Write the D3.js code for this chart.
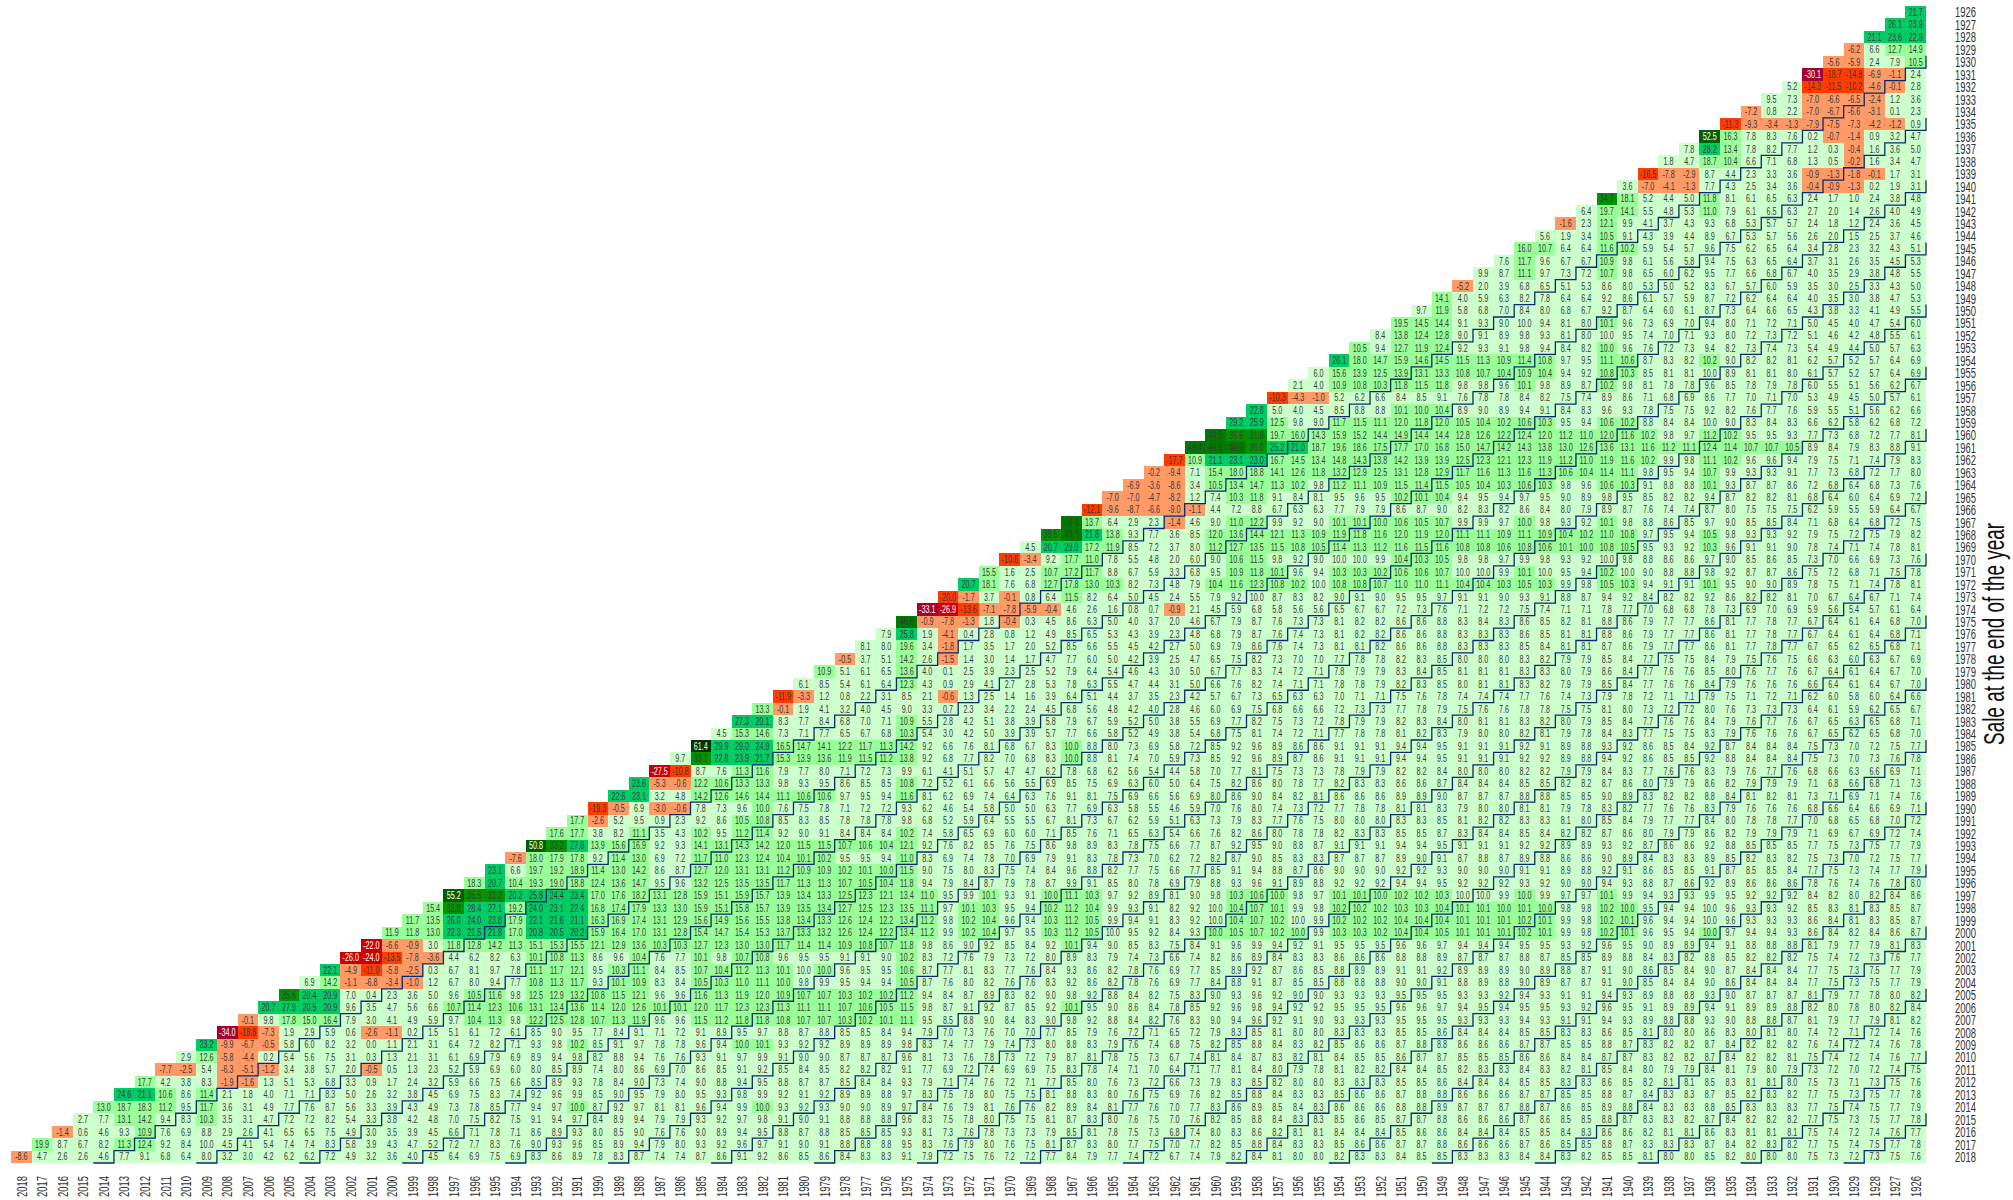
<!DOCTYPE html>
<html><head><meta charset="utf-8">
<script src="https://d3js.org/d3.v7.min.js"></script>
<style>html,body{margin:0;padding:0;background:#fff}svg{display:block}text{font-family:"Liberation Sans Narrow","Liberation Sans",sans-serif}</style>
</head><body><svg id="c" width="2013" height="1200"></svg>
<script>
const firstYear=1926, lastYear=2018;
const axisTitle="Sale at the end of the year";
const bandLimits=[-30,-20,-10,0,10,20,30,40,50,60];
const bandColors=["#a50034","#cc0000","#ff3c00","#ff9966","#ccffcc","#99ff99","#00cc66","#009400","#007a00","#005f00","#003300"];
const stepHolds=[5,10,15,20,25,30,35,40,45,50,55,60,65,70,75,80,85,90];
// each list: annualised return for one sale year, left to right (buy year = sale year ... 1926)
const y1926=[21.7];
const y1927=[26.1,23.9];
const y1928=[21.1,23.6,22.9];
const y1929=[-6.2,6.6,12.7,14.9];
const y1930=[-5.6,-5.9,2.4,7.9,10.5];
const y1931=[-30.1,-18.7,-14.8,-6.9,-1.1,2.4];
const y1932=[5.2,-14.3,-11.5,-10.2,-4.6,-0.1,2.8];
const y1933=[9.5,7.3,-7.0,-6.6,-6.5,-2.4,1.2,3.6];
const y1934=[-7.2,0.8,2.2,-7.0,-6.7,-6.6,-3.1,0.1,2.3];
const y1935=[-11.3,-9.3,-3.4,-1.3,-7.9,-7.5,-7.3,-4.2,-1.2,0.9];
const y1936=[52.5,16.3,7.8,8.3,7.6,0.2,-0.7,-1.4,0.9,3.2,4.7];
const y1937=[7.8,28.2,13.4,7.8,8.2,7.7,1.2,0.3,-0.4,1.6,3.6,5.0];
const y1938=[1.8,4.7,18.7,10.4,6.6,7.1,6.8,1.3,0.5,-0.2,1.6,3.4,4.7];
const y1939=[-16.5,-7.8,-2.9,8.7,4.4,2.3,3.3,3.6,-0.9,-1.3,-1.8,-0.1,1.7,3.1];
const y1940=[3.6,-7.0,-4.1,-1.3,7.7,4.3,2.5,3.4,3.6,-0.4,-0.9,-1.3,0.2,1.9,3.1];
const y1941=[34.7,18.1,5.2,4.4,5.0,11.8,8.1,6.1,6.5,6.3,2.4,1.7,1.0,2.4,3.8,4.8];
const y1942=[6.4,19.7,14.1,5.5,4.8,5.3,11.0,7.9,6.1,6.5,6.3,2.7,2.0,1.4,2.6,4.0,4.9];
const y1943=[-1.6,2.3,12.1,9.9,4.1,3.7,4.3,9.3,6.8,5.3,5.7,5.7,2.4,1.8,1.2,2.4,3.6,4.5];
const y1944=[5.6,1.9,3.4,10.5,9.1,4.3,3.9,4.4,8.9,6.7,5.3,5.7,5.6,2.6,2.0,1.5,2.5,3.7,4.6];
const y1945=[16.0,10.7,6.4,6.4,11.6,10.2,5.9,5.4,5.7,9.6,7.5,6.2,6.5,6.4,3.4,2.8,2.3,3.2,4.3,5.1];
const y1946=[7.6,11.7,9.6,6.7,6.7,10.9,9.8,6.1,5.6,5.8,9.4,7.5,6.3,6.5,6.4,3.7,3.1,2.6,3.5,4.5,5.3];
const y1947=[9.9,8.7,11.1,9.7,7.3,7.2,10.7,9.8,6.5,6.0,6.2,9.5,7.7,6.6,6.8,6.7,4.0,3.5,2.9,3.8,4.8,5.5];
const y1948=[-5.2,2.0,3.9,6.8,6.5,5.1,5.3,8.6,8.0,5.3,5.0,5.2,8.3,6.7,5.7,6.0,5.9,3.5,3.0,2.5,3.3,4.3,5.0];
const y1949=[14.1,4.0,5.9,6.3,8.2,7.8,6.4,6.4,9.2,8.6,6.1,5.7,5.9,8.7,7.2,6.2,6.4,6.4,4.0,3.5,3.0,3.8,4.7,5.3];
const y1950=[9.7,11.9,5.8,6.8,7.0,8.4,8.0,6.8,6.7,9.2,8.7,6.4,6.0,6.1,8.7,7.3,6.4,6.6,6.5,4.3,3.8,3.3,4.1,4.9,5.5];
const y1951=[19.5,14.5,14.4,9.1,9.3,9.0,9.96,9.4,8.1,8.0,10.1,9.6,7.3,6.9,7.0,9.4,8.0,7.1,7.2,7.1,5.0,4.5,4.0,4.7,5.4,6.0];
const y1952=[8.4,13.8,12.4,12.8,9.0,9.1,8.9,9.8,9.3,8.1,8.0,9.96,9.5,7.4,7.0,7.1,9.3,8.0,7.2,7.3,7.2,5.1,4.6,4.2,4.8,5.5,6.1];
const y1953=[10.5,9.4,12.7,11.9,12.4,9.2,9.3,9.1,9.8,9.4,8.4,8.2,10.0,9.6,7.6,7.2,7.3,9.4,8.2,7.3,7.4,7.3,5.4,4.9,4.4,5.0,5.7,6.3];
const y1954=[26.1,18.0,14.7,15.9,14.6,14.5,11.5,11.3,10.9,11.4,10.8,9.7,9.5,11.1,10.6,8.7,8.3,8.2,10.2,9.0,8.2,8.2,8.1,6.2,5.7,5.2,5.7,6.4,6.9];
const y1955=[6.0,15.6,13.9,12.5,13.9,13.1,13.3,10.8,10.7,10.4,10.9,10.4,9.4,9.2,10.8,10.3,8.5,8.1,8.1,9.96,8.9,8.1,8.1,8.0,6.1,5.7,5.2,5.7,6.4,6.9];
const y1956=[2.1,4.0,10.9,10.8,10.3,11.8,11.5,11.8,9.8,9.8,9.6,10.1,9.8,8.9,8.7,10.2,9.8,8.1,7.8,7.8,9.6,8.5,7.8,7.9,7.8,6.0,5.5,5.1,5.6,6.2,6.7];
const y1957=[-10.3,-4.3,-1.0,5.2,6.2,6.6,8.4,8.5,9.1,7.6,7.8,7.8,8.4,8.2,7.5,7.4,8.9,8.6,7.1,6.8,6.9,8.6,7.7,7.0,7.1,7.0,5.3,4.9,4.5,5.0,5.7,6.1];
const y1958=[22.8,5.0,4.0,4.5,8.5,8.8,8.8,10.1,10.0,10.4,8.9,9.0,8.9,9.4,9.1,8.4,8.3,9.6,9.3,7.8,7.5,7.5,9.2,8.2,7.6,7.7,7.6,5.9,5.5,5.1,5.6,6.2,6.6];
const y1959=[29.2,25.9,12.5,9.8,9.0,11.7,11.5,11.1,12.0,11.8,12.0,10.5,10.4,10.2,10.6,10.3,9.5,9.4,10.6,10.2,8.8,8.4,8.4,9.96,9.0,8.3,8.4,8.3,6.6,6.2,5.8,6.2,6.8,7.2];
const y1960=[44.5,36.6,31.8,19.7,16.0,14.3,15.9,15.2,14.4,14.9,14.4,14.4,12.8,12.6,12.2,12.4,12.0,11.2,11.0,12.0,11.6,10.2,9.8,9.7,11.2,10.2,9.5,9.5,9.3,7.7,7.3,6.8,7.2,7.7,8.1];
const y1961=[49.4,46.9,40.7,36.0,25.2,21.0,18.7,19.6,18.6,17.5,17.7,17.0,16.8,15.0,14.7,14.2,14.3,13.8,13.0,12.6,13.6,13.1,11.6,11.2,11.1,12.4,11.4,10.7,10.7,10.5,8.9,8.4,7.9,8.3,8.8,9.1];
const y1962=[-17.7,10.9,21.1,23.1,23.0,16.7,14.5,13.4,14.8,14.3,13.8,14.2,13.9,13.9,12.5,12.3,12.1,12.3,11.9,11.2,11.0,11.9,11.6,10.2,9.9,9.8,11.1,10.2,9.6,9.6,9.4,7.9,7.5,7.1,7.4,7.9,8.3];
const y1963=[-0.2,-9.4,7.1,15.4,18.0,18.8,14.1,12.6,11.8,13.2,12.9,12.5,13.1,12.8,12.9,11.7,11.6,11.3,11.6,11.3,10.6,10.4,11.4,11.1,9.8,9.5,9.4,10.7,9.9,9.3,9.3,9.1,7.7,7.3,6.8,7.2,7.7,8.0];
const y1964=[-6.9,-3.6,-8.6,3.4,10.5,13.4,14.7,11.3,10.2,9.8,11.2,11.1,10.9,11.5,11.4,11.5,10.5,10.4,10.3,10.6,10.3,9.8,9.6,10.6,10.3,9.1,8.8,8.8,10.1,9.3,8.7,8.7,8.6,7.2,6.8,6.4,6.8,7.3,7.6];
const y1965=[-7.0,-7.0,-4.7,-8.2,1.2,7.4,10.3,11.8,9.1,8.4,8.1,9.5,9.6,9.5,10.2,10.1,10.4,9.4,9.5,9.4,9.7,9.5,9.0,8.9,9.8,9.5,8.5,8.2,8.2,9.4,8.7,8.2,8.2,8.1,6.8,6.4,6.0,6.4,6.9,7.2];
const y1966=[-12.1,-9.6,-8.7,-6.6,-9.0,-1.1,4.4,7.2,8.8,6.7,6.3,6.3,7.7,7.9,7.9,8.6,8.7,9.0,8.2,8.3,8.2,8.6,8.4,8.0,7.9,8.9,8.7,7.6,7.4,7.4,8.7,8.0,7.5,7.5,7.5,6.2,5.9,5.5,5.9,6.4,6.7];
const y1967=[47.2,13.7,6.4,2.9,2.3,-1.4,4.6,9.0,11.0,12.2,9.9,9.2,9.0,10.1,10.1,10.0,10.6,10.5,10.7,9.9,9.9,9.7,10.0,9.8,9.3,9.2,10.1,9.8,8.8,8.6,8.5,9.7,9.0,8.5,8.5,8.4,7.1,6.8,6.4,6.8,7.2,7.5];
const y1968=[39.5,43.3,21.8,13.8,9.3,7.7,3.6,8.5,12.0,13.6,14.4,12.1,11.3,10.9,11.9,11.8,11.6,12.0,11.9,12.0,11.1,11.1,10.9,11.1,10.9,10.4,10.2,11.0,10.8,9.7,9.5,9.4,10.5,9.8,9.3,9.3,9.2,7.9,7.5,7.2,7.5,7.9,8.2];
const y1969=[4.5,20.7,29.0,17.2,11.9,8.5,7.2,3.7,8.0,11.2,12.7,13.5,11.5,10.8,10.5,11.4,11.3,11.2,11.6,11.5,11.6,10.8,10.8,10.6,10.8,10.6,10.1,10.0,10.8,10.5,9.5,9.3,9.2,10.3,9.6,9.1,9.1,9.0,7.8,7.4,7.1,7.4,7.8,8.1];
const y1970=[-10.6,-3.4,9.2,17.7,11.0,7.8,5.5,4.8,2.0,6.0,9.0,10.6,11.5,9.8,9.2,9.0,9.96,9.96,9.9,10.4,10.3,10.5,9.8,9.8,9.7,9.9,9.8,9.3,9.2,9.96,9.8,8.8,8.6,8.6,9.7,9.0,8.5,8.6,8.5,7.3,7.0,6.6,6.9,7.3,7.6];
const y1971=[15.5,1.6,2.5,10.7,17.2,11.7,8.8,6.7,5.9,3.3,6.8,9.5,10.9,11.8,10.1,9.6,9.4,10.3,10.3,10.2,10.6,10.6,10.7,9.96,9.96,9.9,10.1,9.96,9.5,9.4,10.2,9.96,9.0,8.8,8.8,9.8,9.2,8.7,8.7,8.6,7.5,7.2,6.8,7.1,7.5,7.8];
const y1972=[20.7,18.1,7.6,6.8,12.7,17.8,13.0,10.3,8.2,7.3,4.8,7.9,10.4,11.6,12.3,10.8,10.2,9.96,10.8,10.8,10.7,11.0,11.0,11.1,10.4,10.4,10.3,10.5,10.3,9.9,9.8,10.5,10.3,9.4,9.1,9.1,10.1,9.5,9.0,9.0,8.9,7.8,7.5,7.1,7.4,7.8,8.1];
const y1973=[-19.96,-1.7,3.7,-0.1,0.8,6.4,11.5,8.2,6.4,5.0,4.5,2.4,5.5,7.9,9.2,9.96,8.7,8.3,8.2,9.0,9.1,9.0,9.5,9.5,9.7,9.1,9.1,9.0,9.3,9.1,8.8,8.7,9.4,9.2,8.4,8.2,8.2,9.2,8.6,8.2,8.2,8.1,7.0,6.7,6.4,6.7,7.1,7.4];
const y1974=[-33.1,-26.9,-13.6,-7.1,-7.8,-5.9,-0.4,4.6,2.6,1.6,0.8,0.7,-0.9,2.1,4.5,5.9,6.8,5.8,5.6,5.6,6.5,6.7,6.7,7.2,7.3,7.6,7.1,7.2,7.2,7.5,7.4,7.1,7.1,7.8,7.7,7.0,6.8,6.8,7.8,7.3,6.9,7.0,6.9,5.9,5.6,5.4,5.7,6.1,6.4];
const y1975=[46.8,-0.9,-7.8,-1.3,1.8,-0.4,0.3,4.5,8.6,6.3,5.0,4.0,3.7,2.0,4.6,6.7,7.9,8.7,7.6,7.3,7.3,8.1,8.2,8.2,8.6,8.6,8.8,8.3,8.4,8.3,8.6,8.5,8.2,8.1,8.8,8.6,7.9,7.7,7.7,8.6,8.1,7.7,7.8,7.7,6.7,6.4,6.1,6.4,6.8,7.0];
const y1976=[7.9,25.8,1.9,-4.1,0.4,2.8,0.8,1.2,4.9,8.5,6.5,5.3,4.3,3.9,2.3,4.8,6.8,7.9,8.7,7.6,7.4,7.3,8.1,8.2,8.2,8.6,8.6,8.8,8.3,8.3,8.3,8.6,8.5,8.1,8.1,8.8,8.6,7.9,7.7,7.7,8.6,8.1,7.7,7.8,7.7,6.7,6.4,6.1,6.4,6.8,7.1];
const y1977=[8.1,8.0,19.6,3.4,-1.8,1.7,3.5,1.7,2.0,5.2,8.5,6.6,5.5,4.5,4.2,2.7,5.0,6.9,7.9,8.6,7.6,7.4,7.3,8.1,8.1,8.2,8.6,8.6,8.8,8.3,8.3,8.3,8.5,8.4,8.1,8.1,8.7,8.6,7.9,7.7,7.7,8.6,8.1,7.7,7.8,7.7,6.7,6.5,6.2,6.5,6.8,7.1];
const y1978=[-0.5,3.7,5.1,14.2,2.6,-1.5,1.4,3.0,1.4,1.7,4.7,7.7,6.0,5.0,4.2,3.9,2.5,4.7,6.5,7.5,8.2,7.3,7.0,7.0,7.7,7.8,7.8,8.2,8.3,8.5,8.0,8.0,8.0,8.3,8.2,7.9,7.9,8.5,8.4,7.7,7.5,7.5,8.4,7.9,7.5,7.6,7.5,6.6,6.3,6.0,6.3,6.7,6.9];
const y1979=[10.9,5.1,6.1,6.5,13.6,4.0,0.1,2.5,3.9,2.3,2.5,5.2,7.9,6.4,5.4,4.6,4.3,3.0,5.0,6.7,7.7,8.3,7.4,7.2,7.1,7.8,7.9,7.9,8.3,8.4,8.5,8.1,8.1,8.1,8.3,8.3,8.0,7.9,8.6,8.4,7.7,7.6,7.6,8.5,8.0,7.6,7.7,7.6,6.7,6.4,6.1,6.4,6.7,7.0];
const y1980=[6.1,8.5,5.4,6.1,6.4,12.3,4.3,0.9,2.9,4.1,2.7,2.8,5.3,7.8,6.3,5.5,4.7,4.4,3.1,5.0,6.6,7.6,8.2,7.4,7.1,7.1,7.8,7.8,7.9,8.2,8.3,8.5,8.0,8.1,8.1,8.3,8.2,7.9,7.9,8.5,8.4,7.7,7.6,7.6,8.4,7.9,7.6,7.6,7.6,6.6,6.4,6.1,6.4,6.7,7.0];
const y1981=[-11.9,-3.3,1.2,0.8,2.2,3.1,8.5,2.1,-0.6,1.3,2.5,1.4,1.6,3.9,6.4,5.1,4.4,3.7,3.5,2.3,4.2,5.7,6.7,7.3,6.5,6.3,6.3,7.0,7.1,7.1,7.5,7.6,7.8,7.4,7.4,7.4,7.7,7.6,7.4,7.3,7.9,7.8,7.2,7.1,7.1,7.9,7.5,7.1,7.2,7.1,6.2,6.0,5.8,6.0,6.4,6.6];
const y1982=[13.3,-0.1,1.9,4.1,3.2,4.0,4.5,9.0,3.3,0.7,2.3,3.4,2.2,2.4,4.5,6.8,5.6,4.8,4.2,4.0,2.8,4.6,6.0,6.9,7.5,6.8,6.6,6.6,7.2,7.3,7.3,7.7,7.8,7.9,7.5,7.6,7.6,7.8,7.8,7.5,7.5,8.1,8.0,7.3,7.2,7.2,8.0,7.6,7.3,7.3,7.3,6.4,6.1,5.9,6.2,6.5,6.7];
const y1983=[27.3,20.1,8.3,7.7,8.4,6.8,7.0,7.1,10.9,5.5,2.8,4.2,5.1,3.8,3.9,5.8,7.9,6.7,5.9,5.2,5.0,3.8,5.5,6.9,7.7,8.2,7.5,7.3,7.2,7.8,7.9,7.9,8.2,8.3,8.4,8.0,8.1,8.1,8.3,8.2,8.0,7.9,8.5,8.4,7.7,7.6,7.6,8.4,7.9,7.6,7.7,7.6,6.7,6.5,6.3,6.5,6.8,7.1];
const y1984=[4.5,15.3,14.6,7.3,7.1,7.7,6.5,6.7,6.8,10.3,5.4,3.0,4.2,5.0,3.9,3.9,5.7,7.7,6.6,5.8,5.2,4.9,3.8,5.4,6.8,7.5,8.1,7.4,7.2,7.1,7.7,7.8,7.8,8.1,8.2,8.3,7.9,8.0,8.0,8.2,8.1,7.9,7.8,8.4,8.3,7.7,7.5,7.5,8.3,7.9,7.6,7.6,7.6,6.7,6.5,6.2,6.5,6.8,7.0];
const y1985=[61.4,29.9,29.0,24.9,16.5,14.7,14.1,12.2,11.7,11.3,14.2,9.2,6.6,7.6,8.1,6.8,6.7,8.3,10.0,8.8,8.0,7.3,6.9,5.8,7.2,8.5,9.2,9.6,8.9,8.6,8.6,9.1,9.1,9.1,9.4,9.4,9.5,9.1,9.1,9.1,9.2,9.1,8.9,8.8,9.3,9.2,8.6,8.5,8.4,9.2,8.7,8.4,8.4,8.4,7.5,7.3,7.0,7.2,7.5,7.7];
const y1986=[9.7,33.1,22.8,23.9,21.7,15.3,13.9,13.6,11.9,11.5,11.2,13.8,9.2,6.8,7.7,8.2,7.0,6.8,8.3,10.0,8.8,8.1,7.4,7.0,5.9,7.3,8.5,9.2,9.6,8.9,8.7,8.6,9.1,9.1,9.1,9.4,9.4,9.5,9.1,9.1,9.1,9.2,9.2,8.9,8.8,9.4,9.2,8.6,8.5,8.5,9.2,8.8,8.4,8.4,8.4,7.5,7.3,7.0,7.3,7.6,7.8];
const y1987=[-27.5,-10.8,8.7,7.6,11.3,11.6,7.9,7.7,8.0,7.1,7.2,7.3,9.9,6.1,4.1,5.1,5.7,4.7,4.7,6.2,7.8,6.8,6.2,5.6,5.4,4.4,5.8,7.0,7.7,8.1,7.5,7.3,7.3,7.8,7.9,7.9,8.2,8.2,8.4,8.0,8.0,8.0,8.2,8.2,7.9,7.9,8.4,8.3,7.7,7.6,7.6,8.3,7.9,7.6,7.7,7.6,6.8,6.6,6.3,6.6,6.9,7.1];
const y1988=[23.6,-5.3,-0.6,12.2,10.6,13.3,13.3,9.8,9.3,9.5,8.6,8.5,8.5,10.8,7.2,5.2,6.1,6.6,5.6,5.5,6.9,8.5,7.5,6.9,6.3,6.0,5.0,6.4,7.5,8.2,8.6,8.0,7.8,7.7,8.2,8.3,8.3,8.6,8.6,8.7,8.4,8.4,8.4,8.5,8.5,8.2,8.2,8.7,8.6,8.0,7.9,7.9,8.6,8.2,7.9,7.9,7.9,7.1,6.8,6.6,6.8,7.1,7.3];
const y1989=[22.6,23.1,3.2,4.8,14.2,12.6,14.6,14.4,11.1,10.6,10.6,9.7,9.5,9.4,11.6,8.1,6.2,6.9,7.4,6.4,6.3,7.6,9.1,8.1,7.5,6.9,6.6,5.6,6.9,8.0,8.6,9.0,8.4,8.2,8.1,8.6,8.6,8.6,8.9,8.9,9.0,8.7,8.7,8.7,8.8,8.8,8.5,8.5,9.0,8.9,8.3,8.2,8.2,8.8,8.4,8.1,8.2,8.1,7.3,7.1,6.9,7.1,7.4,7.6];
const y1990=[-19.3,-0.5,6.9,-3.0,-0.6,7.8,7.3,9.6,10.0,7.6,7.5,7.8,7.1,7.2,7.2,9.3,6.2,4.6,5.4,5.8,5.0,5.0,6.3,7.7,6.9,6.3,5.8,5.5,4.6,5.9,7.0,7.6,8.0,7.4,7.3,7.2,7.7,7.8,7.8,8.1,8.1,8.3,7.9,8.0,8.0,8.1,8.1,7.9,7.8,8.3,8.2,7.7,7.6,7.6,8.3,7.9,7.6,7.6,7.6,6.8,6.6,6.4,6.6,6.9,7.1];
const y1991=[17.7,-2.6,5.2,9.5,0.9,2.3,9.2,8.6,10.5,10.8,8.5,8.3,8.5,7.8,7.8,7.8,9.8,6.8,5.2,5.9,6.4,5.5,5.5,6.7,8.1,7.3,6.7,6.2,5.9,5.1,6.3,7.3,7.9,8.3,7.7,7.6,7.5,8.0,8.0,8.0,8.3,8.3,8.5,8.1,8.2,8.2,8.3,8.3,8.1,8.0,8.5,8.4,7.9,7.7,7.7,8.4,8.0,7.8,7.8,7.7,7.0,6.8,6.5,6.8,7.0,7.2];
const y1992=[17.6,17.7,3.8,8.2,11.1,3.5,4.3,10.2,9.5,11.2,11.4,9.2,9.0,9.1,8.4,8.4,8.4,10.2,7.4,5.8,6.5,6.9,6.0,6.0,7.1,8.5,7.6,7.1,6.5,6.3,5.4,6.6,7.6,8.2,8.6,8.0,7.8,7.8,8.2,8.3,8.3,8.5,8.5,8.7,8.3,8.4,8.4,8.5,8.4,8.2,8.2,8.7,8.6,8.0,7.9,7.9,8.6,8.2,7.9,7.9,7.9,7.1,6.9,6.7,6.9,7.2,7.4];
const y1993=[50.8,33.2,27.8,13.9,15.6,16.9,9.2,9.3,14.1,13.1,14.3,14.2,12.0,11.5,11.5,10.7,10.6,10.4,12.1,9.2,7.6,8.2,8.5,7.6,7.5,8.6,9.8,8.9,8.3,7.8,7.5,6.6,7.7,8.7,9.2,9.5,9.0,8.8,8.7,9.1,9.1,9.1,9.4,9.4,9.5,9.1,9.1,9.1,9.2,9.2,8.9,8.9,9.3,9.2,8.7,8.6,8.6,9.2,8.8,8.5,8.5,8.5,7.7,7.5,7.3,7.5,7.7,7.9];
const y1994=[-7.6,18.0,17.9,17.8,9.2,11.4,13.0,6.9,7.2,11.7,11.0,12.3,12.4,10.4,10.1,10.2,9.5,9.5,9.4,11.0,8.3,6.9,7.4,7.8,7.0,6.9,7.9,9.1,8.3,7.8,7.3,7.0,6.2,7.2,8.2,8.7,9.0,8.5,8.3,8.3,8.7,8.7,8.7,8.9,9.0,9.1,8.7,8.8,8.7,8.9,8.8,8.6,8.6,9.0,8.9,8.4,8.3,8.3,8.9,8.5,8.2,8.3,8.2,7.5,7.3,7.0,7.2,7.5,7.7];
const y1995=[23.1,6.6,19.7,19.2,18.9,11.4,13.0,14.2,8.6,8.7,12.7,12.0,13.1,13.1,11.2,10.9,10.9,10.2,10.1,10.0,11.5,9.0,7.5,8.0,8.3,7.5,7.4,8.4,9.6,8.8,8.2,7.7,7.5,6.6,7.7,8.5,9.1,9.4,8.8,8.7,8.6,9.0,9.0,9.0,9.2,9.2,9.3,9.0,9.0,9.0,9.1,9.1,8.9,8.8,9.2,9.1,8.6,8.5,8.5,9.1,8.7,8.5,8.5,8.4,7.7,7.5,7.3,7.4,7.7,7.9];
const y1996=[18.3,20.7,10.4,19.3,19.0,18.8,12.4,13.6,14.7,9.5,9.6,13.2,12.5,13.5,13.5,11.7,11.3,11.3,10.7,10.5,10.4,11.8,9.4,7.9,8.4,8.7,7.9,7.8,8.7,9.9,9.1,8.5,8.0,7.8,6.9,7.9,8.8,9.3,9.6,9.1,8.9,8.8,9.2,9.2,9.2,9.4,9.4,9.5,9.2,9.2,9.2,9.3,9.2,9.0,9.0,9.4,9.3,8.8,8.7,8.6,9.2,8.9,8.6,8.6,8.6,7.8,7.6,7.4,7.6,7.8,8.0];
const y1997=[55.2,35.5,31.2,20.2,25.8,24.4,23.4,17.0,17.6,18.2,13.1,12.8,15.9,15.1,15.9,15.7,13.9,13.4,13.3,12.5,12.3,12.1,13.4,11.0,9.5,9.9,10.1,9.3,9.1,10.0,11.1,10.3,9.7,9.2,8.9,8.1,9.0,9.8,10.3,10.6,10.0,9.8,9.7,10.1,10.1,10.0,10.2,10.2,10.3,9.96,9.96,9.9,10.0,9.9,9.7,9.7,10.1,9.9,9.4,9.3,9.3,9.9,9.5,9.2,9.2,9.2,8.4,8.2,8.0,8.2,8.4,8.6];
const y1998=[15.4,33.8,28.4,27.1,19.2,24.0,23.1,22.4,16.8,17.4,17.9,13.3,13.0,15.9,15.1,15.8,15.7,13.9,13.5,13.4,12.7,12.5,12.3,13.5,11.1,9.7,10.1,10.3,9.5,9.4,10.2,11.2,10.4,9.9,9.3,9.1,8.2,9.2,9.96,10.4,10.7,10.1,9.9,9.8,10.2,10.2,10.2,10.3,10.3,10.4,10.1,10.1,10.0,10.1,10.0,9.8,9.8,10.2,10.0,9.5,9.4,9.4,9.96,9.6,9.3,9.3,9.2,8.5,8.3,8.1,8.3,8.5,8.7];
const y1999=[11.7,13.5,26.0,24.0,23.8,17.9,22.1,21.6,21.1,16.3,16.9,17.4,13.1,12.9,15.6,14.9,15.6,15.5,13.8,13.4,13.3,12.6,12.4,12.2,13.4,11.2,9.8,10.2,10.4,9.6,9.4,10.3,11.2,10.5,9.9,9.4,9.1,8.3,9.2,9.96,10.4,10.7,10.2,9.96,9.9,10.2,10.2,10.2,10.4,10.4,10.4,10.1,10.1,10.1,10.2,10.1,9.9,9.8,10.2,10.1,9.6,9.4,9.4,9.96,9.6,9.3,9.3,9.3,8.6,8.4,8.1,8.3,8.5,8.7];
const y2000=[11.9,11.8,13.0,22.3,21.5,21.8,17.0,20.8,20.5,20.2,15.9,16.4,17.0,13.1,12.8,15.4,14.7,15.4,15.3,13.7,13.3,13.2,12.6,12.4,12.2,13.4,11.2,9.9,10.2,10.4,9.7,9.5,10.3,11.2,10.5,9.96,9.5,9.2,8.4,9.3,10.0,10.5,10.7,10.2,10.0,9.9,10.3,10.3,10.2,10.4,10.4,10.5,10.1,10.1,10.1,10.2,10.1,9.9,9.8,10.2,10.1,9.6,9.5,9.4,10.0,9.7,9.4,9.4,9.3,8.6,8.4,8.2,8.4,8.6,8.7];
const y2001=[-22.0,-6.6,-0.9,3.0,11.8,12.8,14.2,11.3,15.1,15.3,15.5,12.1,12.9,13.6,10.3,10.3,12.7,12.3,13.0,13.0,11.7,11.4,11.4,10.9,10.8,10.7,11.8,9.8,8.6,9.0,9.2,8.5,8.4,9.2,10.1,9.4,9.0,8.5,8.3,7.5,8.4,9.1,9.6,9.9,9.4,9.2,9.1,9.5,9.5,9.5,9.6,9.6,9.7,9.4,9.4,9.4,9.5,9.5,9.3,9.2,9.6,9.5,9.0,8.9,8.9,9.4,9.1,8.8,8.8,8.8,8.1,7.9,7.7,7.9,8.1,8.3];
const y2002=[-26.0,-24.0,-13.5,-7.8,-3.6,4.4,6.2,8.2,6.3,10.1,10.8,11.3,8.6,9.6,10.4,7.6,7.7,10.1,9.8,10.7,10.8,9.6,9.5,9.5,9.1,9.1,9.0,10.2,8.3,7.2,7.6,7.9,7.3,7.2,8.0,8.9,8.3,7.9,7.4,7.3,6.6,7.4,8.2,8.6,8.9,8.4,8.3,8.3,8.6,8.6,8.6,8.8,8.8,8.9,8.7,8.7,8.7,8.8,8.7,8.5,8.5,8.9,8.8,8.4,8.3,8.2,8.8,8.5,8.2,8.2,8.2,7.5,7.4,7.2,7.3,7.6,7.7];
const y2003=[22.1,-4.9,-11.0,-5.8,-2.5,0.3,6.7,8.1,9.7,7.8,11.1,11.7,12.1,9.5,10.3,11.1,8.4,8.5,10.7,10.4,11.2,11.3,10.1,9.96,10.0,9.6,9.5,9.5,10.6,8.7,7.7,8.1,8.3,7.7,7.6,8.4,9.3,8.6,8.2,7.8,7.6,6.9,7.7,8.5,8.9,9.2,8.7,8.6,8.5,8.8,8.9,8.9,9.1,9.1,9.2,8.9,8.9,8.9,9.0,8.9,8.8,8.7,9.1,9.0,8.6,8.5,8.4,9.0,8.7,8.4,8.4,8.4,7.7,7.5,7.3,7.5,7.7,7.9];
const y2004=[6.9,14.2,-1.1,-6.8,-3.4,-1.0,1.2,6.7,8.0,9.4,7.7,10.8,11.3,11.7,9.3,10.1,10.9,8.3,8.4,10.5,10.3,11.0,11.1,10.0,9.8,9.9,9.5,9.4,9.4,10.5,8.7,7.6,8.0,8.2,7.6,7.6,8.3,9.2,8.6,8.2,7.8,7.6,6.9,7.7,8.4,8.8,9.1,8.7,8.5,8.5,8.8,8.8,8.8,9.0,9.0,9.1,8.8,8.9,8.8,9.0,8.9,8.7,8.7,9.1,9.0,8.5,8.4,8.4,9.0,8.6,8.4,8.4,8.4,7.7,7.5,7.3,7.5,7.7,7.9];
const y2005=[35.6,20.4,20.9,7.0,0.4,2.3,3.6,5.0,9.6,10.5,11.6,9.8,12.5,12.9,13.2,10.8,11.5,12.1,9.6,9.6,11.6,11.3,11.9,12.0,10.9,10.7,10.7,10.3,10.2,10.2,11.2,9.4,8.4,8.7,8.9,8.3,8.2,9.0,9.8,9.2,8.8,8.4,8.2,7.5,8.3,9.0,9.3,9.6,9.2,9.0,9.0,9.3,9.3,9.3,9.5,9.5,9.5,9.3,9.3,9.2,9.4,9.3,9.1,9.1,9.4,9.3,8.9,8.8,8.8,9.3,9.0,8.7,8.7,8.7,8.1,7.9,7.7,7.8,8.0,8.2];
const y2006=[20.7,27.9,20.5,20.9,9.6,3.5,4.7,5.6,6.6,10.7,11.4,12.3,10.6,13.1,13.4,13.6,11.4,12.0,12.6,10.1,10.1,12.0,11.7,12.3,12.3,11.3,11.1,11.1,10.7,10.6,10.5,11.5,9.8,8.7,9.1,9.2,8.7,8.5,9.2,10.1,9.5,9.0,8.6,8.4,7.8,8.5,9.2,9.6,9.8,9.4,9.2,9.2,9.5,9.5,9.5,9.6,9.6,9.7,9.4,9.5,9.4,9.5,9.5,9.3,9.2,9.6,9.5,9.1,8.9,8.9,9.4,9.1,8.9,8.9,8.8,8.2,8.0,7.8,8.0,8.2,8.4];
const y2007=[-0.1,9.8,17.8,15.0,16.4,7.9,3.0,4.1,4.9,5.9,9.7,10.4,11.3,9.8,12.2,12.5,12.8,10.7,11.3,11.9,9.6,9.6,11.5,11.2,11.8,11.8,10.8,10.7,10.7,10.3,10.2,10.1,11.1,9.5,8.5,8.8,9.0,8.4,8.3,9.0,9.8,9.2,8.8,8.4,8.2,7.6,8.3,9.0,9.4,9.6,9.2,9.1,9.0,9.3,9.3,9.3,9.5,9.5,9.5,9.3,9.3,9.3,9.4,9.3,9.1,9.1,9.4,9.3,8.9,8.8,8.8,9.3,9.0,8.8,8.8,8.7,8.1,7.9,7.7,7.9,8.1,8.2];
const y2008=[-34.0,-18.8,-7.3,1.9,2.9,5.9,0.6,-2.6,-1.1,0.2,1.5,5.1,6.1,7.2,6.1,8.5,9.0,9.5,7.7,8.4,9.1,7.1,7.2,9.1,8.9,9.5,9.7,8.8,8.7,8.8,8.5,8.5,8.4,9.4,7.9,7.0,7.3,7.6,7.0,7.0,7.7,8.5,7.9,7.6,7.2,7.1,6.5,7.2,7.9,8.3,8.5,8.1,8.0,8.0,8.3,8.3,8.3,8.5,8.5,8.6,8.4,8.4,8.4,8.5,8.5,8.3,8.3,8.6,8.5,8.1,8.0,8.0,8.6,8.3,8.0,8.1,8.0,7.4,7.2,7.1,7.2,7.4,7.6];
const y2009=[23.2,-9.9,-6.7,-0.5,5.8,6.0,8.2,3.2,0.0,1.1,2.1,3.1,6.4,7.2,8.2,7.1,9.3,9.8,10.2,8.5,9.1,9.7,7.8,7.8,9.6,9.4,10.0,10.1,9.3,9.2,9.2,8.9,8.9,8.9,9.8,8.3,7.4,7.7,7.9,7.4,7.3,8.0,8.8,8.3,7.9,7.6,7.4,6.8,7.5,8.2,8.5,8.8,8.4,8.3,8.2,8.5,8.6,8.6,8.7,8.8,8.8,8.6,8.6,8.6,8.7,8.7,8.5,8.5,8.8,8.7,8.3,8.2,8.2,8.7,8.4,8.2,8.2,8.2,7.6,7.4,7.2,7.4,7.6,7.8];
const y2010=[2.9,12.6,-5.8,-4.4,0.2,5.4,5.6,7.5,3.1,0.3,1.3,2.1,3.1,6.1,6.9,7.9,6.9,8.9,9.4,9.8,8.2,8.8,9.4,7.6,7.6,9.3,9.1,9.7,9.9,9.1,9.0,9.0,8.7,8.7,8.7,9.6,8.1,7.3,7.6,7.8,7.3,7.2,7.9,8.7,8.1,7.8,7.5,7.3,6.7,7.4,8.1,8.4,8.7,8.3,8.2,8.1,8.4,8.5,8.5,8.6,8.7,8.7,8.5,8.5,8.5,8.6,8.6,8.4,8.4,8.7,8.7,8.3,8.2,8.2,8.7,8.4,8.2,8.2,8.1,7.5,7.4,7.2,7.4,7.6,7.7];
const y2011=[-7.7,-2.5,5.4,-6.3,-5.1,-1.2,3.4,3.8,5.7,2.0,-0.5,0.5,1.3,2.3,5.2,5.9,6.9,6.0,8.0,8.5,8.9,7.4,8.0,8.6,6.9,7.0,8.6,8.5,9.1,9.2,8.5,8.4,8.5,8.2,8.2,8.2,9.1,7.7,6.9,7.2,7.4,6.9,6.9,7.5,8.3,7.8,7.4,7.1,7.0,6.4,7.1,7.7,8.1,8.4,8.0,7.9,7.8,8.1,8.2,8.2,8.4,8.4,8.5,8.2,8.3,8.3,8.4,8.3,8.2,8.1,8.5,8.4,8.0,7.9,7.9,8.4,8.1,7.9,8.0,7.9,7.3,7.2,7.0,7.2,7.4,7.5];
const y2012=[17.7,4.2,3.8,8.3,-1.9,-1.6,1.3,5.1,5.3,6.8,3.3,0.9,1.7,2.4,3.2,5.9,6.6,7.5,6.6,8.5,8.9,9.3,7.8,8.4,9.0,7.3,7.4,9.0,8.8,9.4,9.5,8.8,8.7,8.7,8.5,8.4,8.4,9.3,7.9,7.1,7.4,7.6,7.2,7.1,7.7,8.5,8.0,7.6,7.3,7.2,6.6,7.3,7.9,8.3,8.5,8.2,8.0,8.0,8.3,8.3,8.3,8.5,8.5,8.6,8.4,8.4,8.4,8.5,8.5,8.3,8.3,8.6,8.5,8.2,8.1,8.1,8.5,8.3,8.1,8.1,8.0,7.5,7.3,7.1,7.3,7.5,7.6];
const y2013=[24.6,21.1,10.6,8.6,11.4,2.1,1.8,4.0,7.1,7.1,8.3,5.0,2.6,3.2,3.8,4.5,6.9,7.5,8.3,7.4,9.2,9.6,9.9,8.5,9.0,9.5,7.9,8.0,9.5,9.3,9.8,9.9,9.2,9.1,9.2,8.9,8.9,8.8,9.7,8.3,7.5,7.8,8.0,7.5,7.5,8.1,8.8,8.3,8.0,7.6,7.5,6.9,7.6,8.2,8.5,8.8,8.4,8.3,8.3,8.5,8.6,8.6,8.7,8.8,8.8,8.6,8.6,8.6,8.7,8.7,8.5,8.5,8.8,8.7,8.4,8.3,8.3,8.7,8.5,8.2,8.3,8.2,7.7,7.5,7.3,7.5,7.7,7.8];
const y2014=[13.0,18.7,18.3,11.2,9.5,11.7,3.6,3.1,4.9,7.7,7.6,8.7,5.6,3.3,3.9,4.3,4.9,7.3,7.8,8.5,7.7,9.4,9.7,10.0,8.7,9.2,9.7,8.1,8.1,9.6,9.4,9.9,10.0,9.3,9.2,9.3,9.0,9.0,8.9,9.7,8.4,7.6,7.9,8.1,7.6,7.6,8.2,8.9,8.4,8.1,7.7,7.6,7.0,7.7,8.3,8.6,8.9,8.5,8.4,8.3,8.6,8.6,8.6,8.8,8.8,8.9,8.7,8.7,8.7,8.8,8.7,8.6,8.5,8.9,8.8,8.4,8.3,8.3,8.8,8.5,8.3,8.3,8.3,7.7,7.5,7.4,7.5,7.7,7.9];
const y2015=[2.7,7.7,13.1,14.2,9.4,8.3,10.3,3.5,3.1,4.7,7.2,7.2,8.2,5.4,3.3,3.8,4.2,4.8,7.0,7.5,8.2,7.5,9.1,9.4,9.7,8.4,8.9,9.4,7.9,7.9,9.3,9.2,9.7,9.8,9.1,9.0,9.1,8.8,8.8,8.8,9.6,8.3,7.5,7.8,8.0,7.5,7.5,8.1,8.7,8.3,8.0,7.6,7.5,7.0,7.6,8.2,8.5,8.8,8.4,8.3,8.3,8.5,8.6,8.5,8.7,8.7,8.8,8.6,8.6,8.6,8.7,8.6,8.5,8.5,8.8,8.7,8.3,8.3,8.2,8.7,8.4,8.2,8.2,8.2,7.7,7.5,7.3,7.5,7.7,7.8];
const y2016=[-1.4,0.6,4.6,9.3,10.9,7.6,6.9,8.8,2.9,2.6,4.1,6.5,6.5,7.5,4.9,3.0,3.5,3.9,4.5,6.6,7.1,7.8,7.1,8.6,8.9,9.3,8.0,8.5,9.0,7.6,7.6,9.0,8.9,9.4,9.5,8.8,8.7,8.8,8.5,8.5,8.5,9.3,8.1,7.3,7.6,7.8,7.3,7.3,7.9,8.5,8.1,7.8,7.5,7.3,6.8,7.4,8.0,8.3,8.6,8.2,8.1,8.1,8.4,8.4,8.4,8.5,8.6,8.6,8.4,8.4,8.4,8.5,8.5,8.4,8.3,8.6,8.6,8.2,8.1,8.1,8.6,8.3,8.1,8.1,8.1,7.5,7.4,7.2,7.4,7.6,7.7];
const y2017=[19.9,8.7,6.7,8.2,11.3,12.4,9.2,8.4,9.96,4.5,4.1,5.4,7.4,7.4,8.3,5.8,3.9,4.3,4.7,5.2,7.2,7.7,8.3,7.6,9.0,9.3,9.6,8.5,8.9,9.4,7.9,8.0,9.3,9.2,9.6,9.7,9.1,9.0,9.1,8.8,8.8,8.8,9.5,8.3,7.6,7.9,8.0,7.6,7.5,8.1,8.7,8.3,8.0,7.7,7.5,7.0,7.7,8.2,8.5,8.8,8.4,8.3,8.3,8.5,8.6,8.6,8.7,8.7,8.8,8.6,8.6,8.6,8.7,8.6,8.5,8.5,8.8,8.7,8.3,8.3,8.3,8.7,8.4,8.2,8.3,8.2,7.7,7.5,7.4,7.5,7.7,7.8];
const y2018=[-8.6,4.7,2.6,2.6,4.6,7.7,9.1,6.8,6.4,8.0,3.2,3.0,4.2,6.2,6.2,7.2,4.9,3.2,3.6,4.0,4.5,6.4,6.9,7.5,6.9,8.3,8.6,8.9,7.8,8.3,8.7,7.4,7.4,8.7,8.6,9.1,9.2,8.6,8.5,8.6,8.4,8.3,8.3,9.1,7.9,7.2,7.5,7.6,7.2,7.2,7.7,8.4,7.9,7.7,7.4,7.2,6.7,7.4,7.9,8.2,8.4,8.1,8.0,8.0,8.2,8.3,8.3,8.4,8.5,8.5,8.3,8.3,8.3,8.4,8.4,8.3,8.2,8.5,8.5,8.1,8.0,8.0,8.5,8.2,8.0,8.0,8.0,7.5,7.3,7.2,7.3,7.5,7.6];
const saleRows=[y1926,y1927,y1928,y1929,y1930,y1931,y1932,y1933,y1934,y1935,y1936,y1937,y1938,y1939,y1940,y1941,y1942,y1943,y1944,y1945,y1946,y1947,y1948,y1949,y1950,y1951,y1952,y1953,y1954,y1955,y1956,y1957,y1958,y1959,y1960,y1961,y1962,y1963,y1964,y1965,y1966,y1967,y1968,y1969,y1970,y1971,y1972,y1973,y1974,y1975,y1976,y1977,y1978,y1979,y1980,y1981,y1982,y1983,y1984,y1985,y1986,y1987,y1988,y1989,y1990,y1991,y1992,y1993,y1994,y1995,y1996,y1997,y1998,y1999,y2000,y2001,y2002,y2003,y2004,y2005,y2006,y2007,y2008,y2009,y2010,y2011,y2012,y2013,y2014,y2015,y2016,y2017,y2018];

const years=d3.range(firstYear,lastYear+1);
const svg=d3.select("#c");
const x=d3.scaleBand().domain(years.slice().reverse()).range([11,1926]);
const y=d3.scaleBand().domain(years).range([6,1163]);
const colour=d3.scaleThreshold().domain(bandLimits).range(bandColors);
const cells=[];
saleRows.forEach((row,i)=>{const sale=firstYear+i;row.forEach((v,j)=>cells.push({sale,buy:sale-j,v}));});

svg.append("g").selectAll("rect").data(cells).join("rect")
  .attr("x",d=>x(d.buy)).attr("y",d=>y(d.sale))
  .attr("width",x.bandwidth()).attr("height",y.bandwidth())
  .attr("fill",d=>colour(d.v)).attr("shape-rendering","crispEdges");

svg.append("g").selectAll("text").data(cells).join("text")
  .attr("transform",d=>`translate(${x(d.buy)+x.bandwidth()/2},${y(d.sale)+y.bandwidth()/2}) scale(.72,1)`)
  .attr("text-anchor","middle").attr("dy","0.36em").attr("font-size",10)
  .attr("fill",d=>(d.v<=-20||d.v>=50)?"#fff":"#3a3a3a")
  .text(d=>d.v.toFixed(1));

const stair=svg.append("g").attr("fill","none").attr("stroke","#0a2a6b").attr("stroke-width",1.3);
stair.selectAll("path").data(stepHolds).join("path").attr("d",n=>{
  const p=d3.path(); let first=true;
  for(let sale=firstYear+n-1;sale<=lastYear;sale++){
    const buy=sale-n+1, l=x(buy), r=l+x.bandwidth(), t=y(sale), b=t+y.bandwidth();
    if(first){p.moveTo(r,t);first=false;} else p.lineTo(r,t);
    p.lineTo(r,b); p.lineTo(l,b);
  }
  return p.toString();
});

const bottomAxis=svg.append("g").attr("transform","translate(0,1176)")
  .call(d3.axisBottom(x).tickSize(0).tickPadding(0));
bottomAxis.select(".domain").remove();
bottomAxis.selectAll("text")
  .attr("transform","rotate(-90)").attr("x",-21).attr("y",0).attr("dy","0.36em")
  .attr("text-anchor","start").attr("font-size",14.5).attr("font-family",null)
  .attr("fill","#333").attr("textLength",21).attr("lengthAdjust","spacingAndGlyphs");

const rightAxis=svg.append("g").attr("transform","translate(1955,0)")
  .call(d3.axisRight(y).tickSize(0).tickPadding(0));
rightAxis.select(".domain").remove();
rightAxis.selectAll("text")
  .attr("x",0).attr("dy","0.36em").attr("font-size",14.5).attr("font-family",null)
  .attr("fill","#333").attr("textLength",21).attr("lengthAdjust","spacingAndGlyphs");

svg.append("text").attr("transform","translate(2004,634) rotate(-90)")
  .attr("text-anchor","middle").attr("font-size",29).attr("fill","#111")
  .attr("textLength",222).attr("lengthAdjust","spacingAndGlyphs").text(axisTitle);
</script></body></html>
